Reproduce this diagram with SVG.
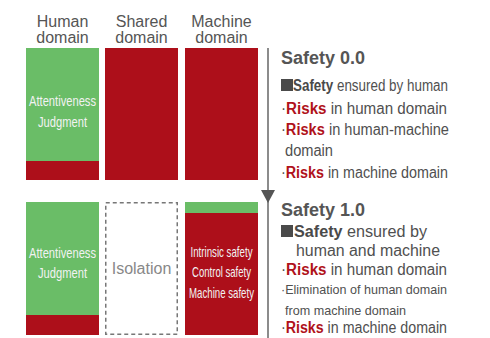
<svg xmlns="http://www.w3.org/2000/svg" width="490" height="338" viewBox="0 0 490 338">
  <style>
    .hdr { font-family: "Liberation Sans", Arial, sans-serif; font-size: 16px; fill: #555; text-anchor: middle; }
    .inner { font-family: "Liberation Sans", Arial, sans-serif; font-size: 15px; fill: #f2f2f2; text-anchor: middle; }
    .title { font-family: "Liberation Sans", Arial, sans-serif; font-size: 18px; font-weight: bold; fill: #555; }
    .body { font-family: "Liberation Sans", Arial, sans-serif; font-size: 16px; fill: #505050; }
    .small { font-family: "Liberation Sans", Arial, sans-serif; font-size: 13px; fill: #505050; }
    .b { font-weight: bold; fill: #4a4a4a; }
    .risk { font-weight: bold; fill: #b0121b; }
    .green { fill: #6abd67; }
    .red { fill: #ad0f1a; }
    .sq { fill: #4a4a4a; }
  </style>
  <defs>
    <marker id="tri" markerWidth="13" markerHeight="14" refX="13" refY="7" orient="auto" markerUnits="userSpaceOnUse" viewBox="0 0 13 14">
      <path d="M0,0 L13,7 L0,14 Z" fill="#555"/>
    </marker>
  </defs>

  <!-- column headings -->
  <g id="headings">
    <text class="hdr" x="62.5" y="27">Human</text>
    <text class="hdr" x="62.5" y="43">domain</text>
    <text class="hdr" x="141.5" y="27">Shared</text>
    <text class="hdr" x="141.5" y="43">domain</text>
    <text class="hdr" x="221.5" y="27">Machine</text>
    <text class="hdr" x="221.5" y="43">domain</text>
  </g>

  <!-- Safety 0.0 row -->
  <g id="s0-human">
    <rect class="green" x="26" y="48" width="73" height="113"/>
    <rect class="red" x="26" y="161" width="73" height="19"/>
    <text class="inner" x="62.5" y="106" textLength="67" lengthAdjust="spacingAndGlyphs">Attentiveness</text>
    <text class="inner" x="62.5" y="127" textLength="49" lengthAdjust="spacingAndGlyphs">Judgment</text>
  </g>
  <g id="s0-shared">
    <rect class="red" x="105" y="48" width="73" height="132"/>
  </g>
  <g id="s0-machine">
    <rect class="red" x="185" y="48" width="73" height="132"/>
  </g>

  <!-- Safety 1.0 row -->
  <g id="s1-human">
    <rect class="green" x="26" y="202" width="73" height="113"/>
    <rect class="red" x="26" y="315" width="73" height="20"/>
    <text class="inner" x="62.5" y="258" textLength="67" lengthAdjust="spacingAndGlyphs">Attentiveness</text>
    <text class="inner" x="62.5" y="278" textLength="49" lengthAdjust="spacingAndGlyphs">Judgment</text>
  </g>
  <g id="s1-shared">
    <rect x="105.75" y="202.75" width="71.5" height="131.5" fill="#fff" stroke="#777" stroke-width="1.5" stroke-dasharray="4 3"/>
    <text x="141.5" y="274" font-family="Liberation Sans, Arial, sans-serif" font-size="16" fill="#888" text-anchor="middle">Isolation</text>
  </g>
  <g id="s1-machine">
    <rect class="green" x="185" y="202" width="73" height="11"/>
    <rect class="red" x="185" y="213" width="73" height="122"/>
    <text class="inner" x="221.5" y="257" textLength="62" lengthAdjust="spacingAndGlyphs">Intrinsic safety</text>
    <text class="inner" x="221.5" y="277" textLength="59" lengthAdjust="spacingAndGlyphs">Control safety</text>
    <text class="inner" x="221.5" y="298" textLength="65" lengthAdjust="spacingAndGlyphs">Machine safety</text>
  </g>

  <!-- progression axis -->
  <g id="connectors">
    <line x1="268" y1="48" x2="268" y2="203" stroke="#666" stroke-width="1.5" marker-end="url(#tri)"/>
    <line x1="268" y1="203" x2="268" y2="338" stroke="#666" stroke-width="1.5"/>
  </g>

  <!-- Safety 0.0 description -->
  <g id="desc-0">
    <text class="title" x="281" y="64">Safety 0.0</text>
    <rect class="sq" x="281" y="79" width="12" height="12"/>
    <text class="body" x="293" y="91" textLength="155" lengthAdjust="spacingAndGlyphs"><tspan class="b">Safety</tspan> ensured by human</text>
    <text class="body" x="281" y="114" textLength="166" lengthAdjust="spacingAndGlyphs">·<tspan class="risk">Risks</tspan> in human domain</text>
    <text class="body" x="281" y="135" textLength="168" lengthAdjust="spacingAndGlyphs">·<tspan class="risk">Risks</tspan> in human-machine</text>
    <text class="body" x="285" y="156" textLength="48" lengthAdjust="spacingAndGlyphs">domain</text>
    <text class="body" x="281" y="178" textLength="167" lengthAdjust="spacingAndGlyphs">·<tspan class="risk">Risks</tspan> in machine domain</text>
  </g>

  <!-- Safety 1.0 description -->
  <g id="desc-1">
    <text class="title" x="281" y="216">Safety 1.0</text>
    <rect class="sq" x="281" y="225" width="12" height="12"/>
    <text class="body" x="294" y="237" font-size="17" textLength="133" lengthAdjust="spacingAndGlyphs"><tspan class="b">Safety</tspan> ensured by</text>
    <text class="body" x="296" y="256" font-size="17" textLength="144" lengthAdjust="spacingAndGlyphs">human and machine</text>
    <text class="body" x="281" y="275" textLength="166" lengthAdjust="spacingAndGlyphs">·<tspan class="risk">Risks</tspan> in human domain</text>
    <text class="small" x="281" y="294" textLength="166" lengthAdjust="spacingAndGlyphs">·Elimination of human domain</text>
    <text class="small" x="285" y="315" textLength="121" lengthAdjust="spacingAndGlyphs">from machine domain</text>
    <text class="body" x="281" y="333" textLength="166" lengthAdjust="spacingAndGlyphs">·<tspan class="risk">Risks</tspan> in machine domain</text>
  </g>
</svg>
